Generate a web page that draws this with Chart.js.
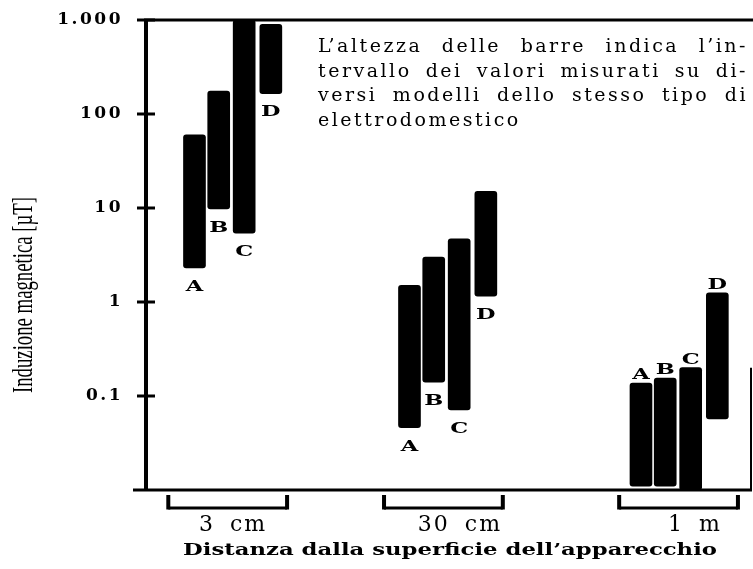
<!DOCTYPE html>
<html>
<head>
<meta charset="utf-8">
<title>Induzione magnetica degli elettrodomestici</title>
<script src="https://cdn.jsdelivr.net/npm/chart.js@4/dist/chart.umd.min.js"></script>
<style>
  html, body { margin: 0; padding: 0; background: #fff; }
  canvas { display: block; }
</style>
</head>
<body>
<canvas id="chart" width="753" height="569"></canvas>
<script>
// Distances from the appliance surface and the appliance types
const distanceLabels = ['3 cm', '30 cm', '1 m'];
const applianceLetters = ['A', 'B', 'C', 'D'];

// Range of measured magnetic induction [µT] for each appliance type
const min3cm  = [2.3, 9.8, 5.4, 165];
const max3cm  = [60, 175, 1000, 900];
const min30cm = [0.046, 0.14, 0.071, 1.15];
const max30cm = [1.5, 3.0, 4.7, 15];
const min1m   = [0.011, 0.011, 0.010, 0.057];
const max1m   = [0.137, 0.155, 0.2, 1.25];

// Logarithmic axis ticks (Italian notation: 1.000 = one thousand)
const yTickValues = [0.1, 1, 10, 100, 1000];
const yTickLabels = ['0.1', '1', '10', '100', '1.000'];

const yTitle = 'Induzione magnetica [µT]';
const xTitle = 'Distanza dalla superficie dell’apparecchio';
const noteLines = [
  'L’altezza delle barre indica l’in-',
  'tervallo dei valori misurati su di-',
  'versi modelli dello stesso tipo di',
  'elettrodomestico'
];

// ---- layout (horizontal axis runs 0..25 slots) ----
const groupCenters = [3.55, 12.42, 21.97];
const barOffsets = [-1.55, -0.55, 0.5, 1.6];
const bracketCenters = [3.37, 12.27, 21.97];
const bracketHalf = 2.45;
const distanceLabelPos = [3.59, 12.95, 22.65];
const letterSide = ['below', 'below', 'above'];

const mins = [min3cm, min30cm, min1m];
const maxs = [max3cm, max30cm, max1m];

const barData = [];
const barMeta = [];
mins.forEach((lows, g) => {
  lows.forEach((lo, k) => {
    barData.push({ x: groupCenters[g] + barOffsets[k], y: [lo, maxs[g][k]] });
    barMeta.push({ letter: applianceLetters[k], side: letterSide[g] });
  });
});

function drawSpaced(ctx, text, x, y, spacing, wordSpacing) {
  ctx.save();
  ctx.letterSpacing = spacing + 'px';
  ctx.wordSpacing = (wordSpacing || 0) + 'px';
  ctx.fillText(text, x, y);
  ctx.restore();
}

function drawFitted(ctx, text, cx, cy, width) {
  const w = ctx.measureText(text).width;
  ctx.save();
  ctx.translate(cx, cy);
  ctx.scale(width / w, 1);
  ctx.textAlign = 'center';
  ctx.fillText(text, 0, 0);
  ctx.restore();
}

function drawJustified(ctx, text, x, y, width) {
  const words = text.split(' ');
  const widths = words.map(w => ctx.measureText(w).width);
  const total = widths.reduce((a, b) => a + b, 0);
  const gap = (width - total) / (words.length - 1);
  let cx = x;
  words.forEach((w, i) => {
    ctx.fillText(w, cx, y);
    cx += widths[i] + gap;
  });
}

const decor = {
  id: 'decor',
  beforeDraw(chart) {
    chart.ctx.letterSpacing = '2.5px';
  },
  afterDatasetsDraw(chart) {
    const ctx = chart.ctx;
    ctx.letterSpacing = '0px';
    const area = chart.chartArea;
    const xs = chart.scales.x;
    const ys = chart.scales.y;
    ctx.save();
    ctx.strokeStyle = '#000';
    ctx.fillStyle = '#000';
    ctx.lineCap = 'butt';

    // frame
    ctx.lineWidth = 4;
    ctx.beginPath();
    ctx.moveTo(area.left, area.top - 1);
    ctx.lineTo(area.left, area.bottom + 1);
    ctx.stroke();
    ctx.lineWidth = 3;
    ctx.beginPath();
    ctx.moveTo(area.left - 2, area.top);
    ctx.lineTo(area.right + 1, area.top);
    ctx.moveTo(area.left - 13, area.bottom);
    ctx.lineTo(area.right, area.bottom);
    ctx.stroke();
    ctx.lineWidth = 2;
    ctx.beginPath();
    ctx.moveTo(area.right - 1, ys.getPixelForValue(0.2));
    ctx.lineTo(area.right - 1, area.bottom);
    ctx.stroke();

    // tick marks crossing the vertical axis
    ctx.lineWidth = 3;
    yTickValues.forEach(v => {
      const py = ys.getPixelForValue(v);
      ctx.beginPath();
      ctx.moveTo(area.left - 9, py);
      ctx.lineTo(area.left + 9, py);
      ctx.stroke();
    });

    // distance brackets and labels
    bracketCenters.forEach((c, i) => {
      const x0 = xs.getPixelForValue(c - bracketHalf);
      const x1 = xs.getPixelForValue(c + bracketHalf);
      const yb = area.bottom + 18;
      ctx.lineWidth = 4;
      ctx.beginPath();
      ctx.moveTo(x0, area.bottom + 5);
      ctx.lineTo(x0, yb + 1.5);
      ctx.moveTo(x1, area.bottom + 5);
      ctx.lineTo(x1, yb + 1.5);
      ctx.stroke();
      ctx.lineWidth = 3;
      ctx.beginPath();
      ctx.moveTo(x0, yb);
      ctx.lineTo(x1, yb);
      ctx.stroke();
    });
    ctx.font = '22px "DejaVu Serif"';
    ctx.textAlign = 'center';
    ctx.textBaseline = 'middle';
    distanceLabels.forEach((t, i) => {
      drawSpaced(ctx, t, xs.getPixelForValue(distanceLabelPos[i]), area.bottom + 35, 2, 6);
    });

    // horizontal axis title
    ctx.font = 'bold 17px "DejaVu Serif"';
    ctx.textBaseline = 'middle';
    drawFitted(ctx, xTitle, 450, area.bottom + 61, 534);

    // vertical axis title (tall, condensed)
    ctx.save();
    ctx.translate(32, 295);
    ctx.rotate(-Math.PI / 2);
    ctx.font = '30px "Liberation Serif"';
    ctx.textBaseline = 'alphabetic';
    drawFitted(ctx, yTitle, 0, 0, 196);
    ctx.restore();

    // explanatory note
    ctx.font = '19px "DejaVu Serif"';
    ctx.letterSpacing = '2.5px';
    ctx.textAlign = 'left';
    ctx.textBaseline = 'alphabetic';
    noteLines.forEach((line, i) => {
      const y = 52 + i * 24.7;
      if (i < noteLines.length - 1) drawJustified(ctx, line, 318, y, 430);
      else ctx.fillText(line, 318, y);
    });
    ctx.letterSpacing = '0px';

    // appliance letters next to each bar
    const meta = chart.getDatasetMeta(0);
    ctx.font = 'bold 15px "DejaVu Serif"';
    ctx.textBaseline = 'middle';
    meta.data.forEach((bar, i) => {
      const top = Math.min(bar.y, bar.base);
      const bottom = Math.max(bar.y, bar.base);
      const info = barMeta[i];
      const ly = info.side === 'below' ? bottom + 19 : top - 8;
      ctx.save();
      ctx.translate(bar.x, ly);
      ctx.scale(1.5, 1);
      ctx.textAlign = 'center';
      ctx.fillText(info.letter, 0, 0);
      ctx.restore();
    });

    ctx.restore();
  }
};

new Chart(document.getElementById('chart'), {
  type: 'bar',
  data: {
    datasets: [{
      data: barData,
      backgroundColor: '#000',
      borderWidth: 0,
      borderRadius: 3,
      borderSkipped: false,
      barThickness: 22
    }]
  },
  options: {
    responsive: false,
    animation: false,
    layout: { padding: { top: 20, right: 1, bottom: 79, left: 0 } },
    plugins: { legend: { display: false }, tooltip: { enabled: false } },
    scales: {
      x: { type: 'linear', display: false, offset: false, min: 0, max: 25 },
      y: {
        type: 'logarithmic',
        min: 0.01,
        max: 1000,
        grid: { display: false },
        border: { display: false },
        afterBuildTicks: s => { s.ticks = yTickValues.map(v => ({ value: v })); },
        afterFit: s => { s.width = 146; s.paddingTop = 0; s.paddingBottom = 0; },
        ticks: {
          autoSkip: false,
          padding: 15,
          color: '#000',
          font: { family: 'DejaVu Serif', weight: 'bold', size: 17 },
          callback: v => {
            const i = yTickValues.indexOf(v);
            return i < 0 ? '' : yTickLabels[i];
          }
        }
      }
    }
  },
  plugins: [decor]
});
</script>
</body>
</html>
